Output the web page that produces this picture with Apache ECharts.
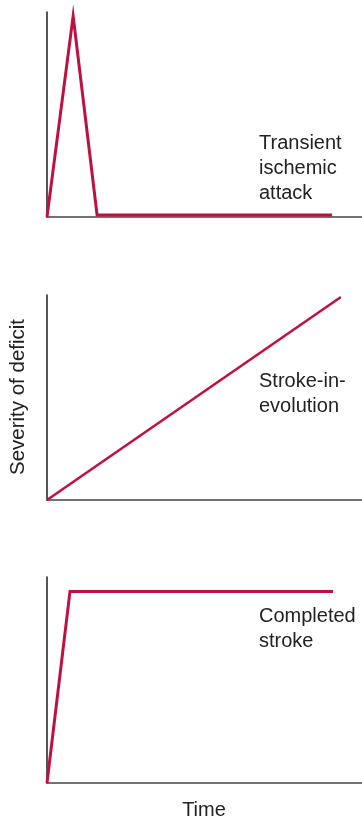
<!DOCTYPE html>
<html>
<head>
<meta charset="utf-8">
<script src="https://cdn.jsdelivr.net/npm/echarts@6/dist/echarts.min.js"></script>
<style>
  html, body { margin: 0; padding: 0; background: #fff; }
  #chart { width: 362px; height: 819px; }
</style>
</head>
<body>
<div id="chart"></div>
<script>
// Time runs 0..100 on every panel; severity runs 0..100.
const panelNames = ['Transient\nischemic\nattack', 'Stroke-in-\nevolution', 'Completed\nstroke'];

// Transient ischemic attack: sharp rise, fast full recovery
const tiaTime = [0, 8.3, 15.9, 90.5];
const tiaSeverity = [0, 98, 1, 1];

// Stroke-in-evolution: steady progression
const evoTime = [0, 93.3];
const evoSeverity = [0, 99];

// Completed stroke: rapid onset, then a fixed deficit
const doneTime = [0, 7.3, 90.8];
const doneSeverity = [0, 93, 93];

const yAxisTitle = 'Severity of deficit';
const xAxisTitle = 'Time';

const series = [
  [tiaTime, tiaSeverity],
  [evoTime, evoSeverity],
  [doneTime, doneSeverity]
];

const grids = [
  { left: 47, right: 0, top: 12, height: 205 },
  { left: 47, right: 0, top: 295, height: 205 },
  { left: 47, right: 0, top: 577, height: 206 }
];

const lineColor = '#c0103f';
const axisColor = '#2b2b2b';
const font = '"Liberation Sans", Arial, Helvetica, sans-serif';

const chart = echarts.init(document.getElementById('chart'), null, { renderer: 'canvas' });

const option = {
  animation: false,
  backgroundColor: '#fff',
  grid: grids,
  xAxis: grids.map((g, i) => ({
    type: 'value', gridIndex: i, min: 0, max: 100,
    axisLine: { show: true, onZero: false, lineStyle: { color: '#444', width: 1.6 } },
    axisTick: { show: false }, axisLabel: { show: false }, splitLine: { show: false }
  })),
  yAxis: grids.map((g, i) => ({
    type: 'value', gridIndex: i, min: 0, max: 100,
    axisLine: { show: true, onZero: false, lineStyle: { color: axisColor, width: 1.6 } },
    axisTick: { show: false }, axisLabel: { show: false }, splitLine: { show: false }
  })),
  series: series.map(([t, s], i) => ({
    type: 'line', xAxisIndex: i, yAxisIndex: i,
    data: t.map((x, k) => [x, s[k]]),
    showSymbol: false, clip: false, z: 3,
    lineStyle: { color: lineColor, width: i === 1 ? 2.5 : 3, join: 'miter' }
  })),
  graphic: [
    ...panelNames.map((name, i) => ({
      type: 'text', left: 259, top: [131, 369, 604][i],
      style: { text: name, font: '20px ' + font, lineHeight: 25, fill: '#222' }
    })),
    {
      type: 'text', x: 18, y: 397, rotation: Math.PI / 2,
      style: { text: yAxisTitle, font: '20.5px ' + font, fill: '#222', align: 'center', verticalAlign: 'middle' }
    },
    {
      type: 'text', x: 204, y: 810,
      style: { text: xAxisTitle, font: '20px ' + font, fill: '#222', align: 'center', verticalAlign: 'middle' }
    }
  ]
};

chart.setOption(option);
</script>
</body>
</html>
